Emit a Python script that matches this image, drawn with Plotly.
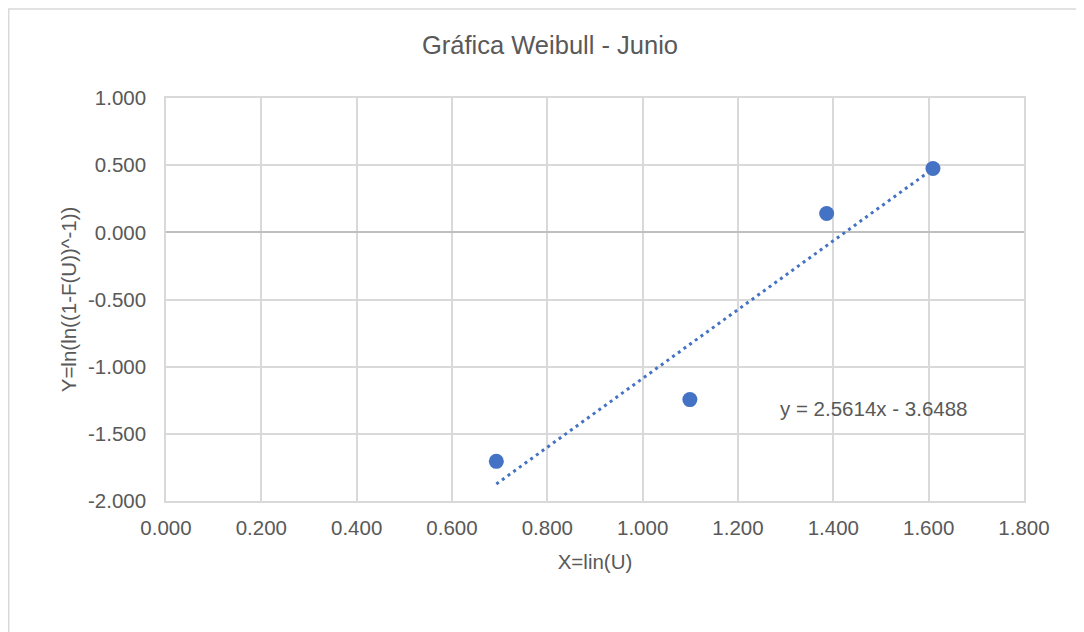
import plotly.graph_objects as go

x_vals = [0.693, 1.099, 1.386, 1.609]
y_vals = [-1.705, -1.245, 0.140, 0.475]
slope = 2.5614
intercept = -3.6488
eq_text = "y = 2.5614x - 3.6488"
title_text = "Gráfica Weibull - Junio"
x_title = "X=lin(U)"
y_title = "Y=ln(ln((1-F(U))^-1))"
x_tickvals = [0.0, 0.2, 0.4, 0.6, 0.8, 1.0, 1.2, 1.4, 1.6, 1.8]
x_ticktext = ["0.000", "0.200", "0.400", "0.600", "0.800", "1.000", "1.200", "1.400", "1.600", "1.800"]
y_tickvals = [-2.0, -1.5, -1.0, -0.5, 0.0, 0.5, 1.0]
y_ticktext = ["-2.000", "-1.500", "-1.000", "-0.500", "0.000", "0.500", "1.000"]

blue = "#4472C4"
grey_text = "#595959"
grid = "#d9d9d9"
font_fam = "Liberation Sans, Arial, sans-serif"

x_line = [min(x_vals), max(x_vals)]
y_line = [slope * v + intercept for v in x_line]

fig = go.Figure()
fig.add_trace(go.Scatter(x=x_line, y=y_line, mode="lines",
                         line=dict(color=blue, width=3, dash="3px,4px"),
                         showlegend=False, hoverinfo="skip"))
fig.add_trace(go.Scatter(x=x_vals, y=y_vals, mode="markers",
                         marker=dict(color=blue, size=15),
                         showlegend=False))

fig.add_annotation(x=1.485, y=-1.315, text=eq_text, showarrow=False,
                   font=dict(size=20.5, color=grey_text, family=font_fam))

fig.add_shape(type="rect", xref="paper", yref="paper",
              x0=-0.1833, x1=1.2, y0=-0.4, y1=1.2208,
              line=dict(color=grid, width=1.5), fillcolor="rgba(0,0,0,0)")

fig.update_layout(
    width=1084, height=632,
    margin=dict(l=158, r=68, t=90, b=139),
    paper_bgcolor="white", plot_bgcolor="white",
    font=dict(family=font_fam, color=grey_text, size=20.5),
    title=dict(text=title_text, x=0.5, xanchor="center", xref="container",
               y=1 - 37 / 632, yanchor="middle",
               font=dict(size=25.5, color=grey_text, family=font_fam)),
    xaxis=dict(range=[0, 1.8], tickvals=x_tickvals, ticktext=x_ticktext,
               showgrid=True, gridcolor=grid, gridwidth=1.5,
               zeroline=False, showline=True, linecolor=grid, linewidth=1.5,
               mirror=True, ticks="", ticklabelstandoff=8,
               title=dict(text=x_title, standoff=16,
                          font=dict(size=20.5, color=grey_text))),
    yaxis=dict(range=[-2, 1], tickvals=y_tickvals, ticktext=y_ticktext,
               showgrid=True, gridcolor=grid, gridwidth=1.5,
               zeroline=True, zerolinecolor="#bfbfbf", zerolinewidth=1.5,
               showline=True, linecolor=grid, linewidth=1.5, mirror=True,
               ticks="", ticklabelstandoff=14,
               title=dict(text=y_title, standoff=6,
                          font=dict(size=20.5, color=grey_text))),
)

fig.write_html("out.html")
